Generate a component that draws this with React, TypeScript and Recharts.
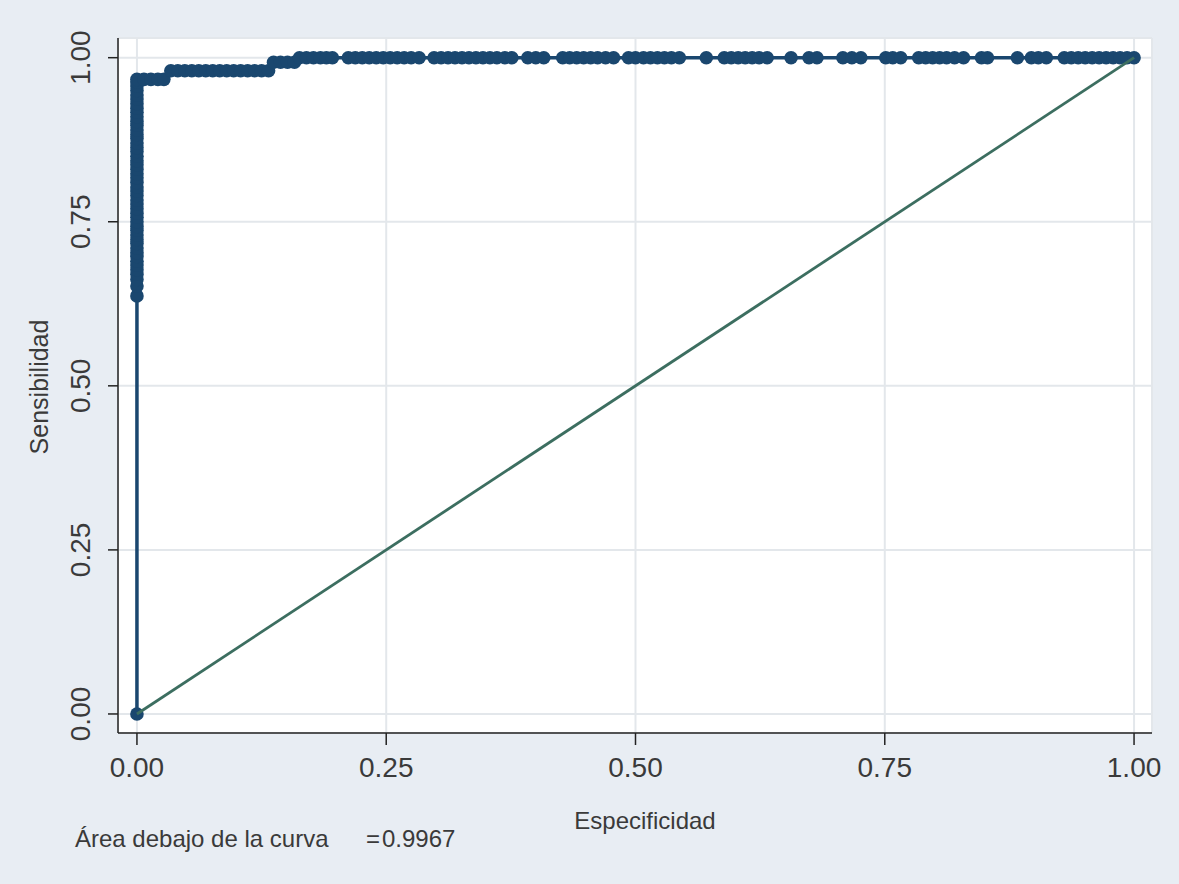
import { CartesianGrid, Label, Scatter, ScatterChart, XAxis, YAxis } from "recharts";

// axis ticks
const axisTicks = [0, 0.25, 0.5, 0.75, 1];
const tickLabels = ["0.00", "0.25", "0.50", "0.75", "1.00"];

// ROC curve
// vertical run at x = 0
const verticalSens = [
  0.637, 0.652, 0.662, 0.670, 0.677, 0.684, 0.690, 0.697, 0.703, 0.710,
  0.717, 0.723, 0.730, 0.737, 0.743, 0.750, 0.757, 0.763, 0.770, 0.777,
  0.783, 0.790, 0.797, 0.803, 0.810, 0.817, 0.823, 0.830, 0.837, 0.843,
  0.850, 0.857, 0.863, 0.870, 0.877, 0.883, 0.890, 0.897, 0.903, 0.910,
  0.917, 0.923, 0.930, 0.937, 0.943, 0.950, 0.957, 0.963, 0.967
];

// horizontal steps: sensitivity level and x positions on each
const stepLevels = [0.967, 0.98, 0.993, 1.0];
const step967 = [0.007, 0.014, 0.021, 0.027];
const step980 = [
  0.034, 0.041, 0.048, 0.055, 0.062, 0.069, 0.076, 0.083, 0.090, 0.097,
  0.104, 0.111, 0.118, 0.125, 0.132
];
const step993 = [0.137, 0.144, 0.151, 0.158];
const step100 = [
  0.163, 0.170, 0.177, 0.184, 0.190, 0.196,
  0.212, 0.219, 0.226, 0.233, 0.240, 0.247, 0.254, 0.261, 0.268, 0.275, 0.283,
  0.298, 0.305, 0.312, 0.319, 0.326, 0.333, 0.340, 0.347, 0.354, 0.361, 0.369, 0.376,
  0.392, 0.400, 0.408,
  0.427, 0.434, 0.441, 0.448, 0.455, 0.462, 0.470, 0.478,
  0.493, 0.500, 0.508, 0.515, 0.522, 0.529, 0.536, 0.544,
  0.571,
  0.589, 0.596, 0.603, 0.610, 0.617, 0.624, 0.632,
  0.656,
  0.674, 0.682,
  0.708, 0.717, 0.726,
  0.751, 0.758, 0.766,
  0.784, 0.791, 0.798, 0.805, 0.812, 0.820, 0.829,
  0.847, 0.853,
  0.883,
  0.897, 0.904, 0.912,
  0.930, 0.937, 0.944, 0.951, 0.958, 0.965, 0.972, 0.979, 0.986, 0.993, 1.0
];

const stepRuns = [step967, step980, step993, step100];

const rocData = [
  { x: 0, y: 0 },
  ...verticalSens.map((s) => ({ x: 0, y: s })),
  ...stepRuns.flatMap((run, i) => run.map((v) => ({ x: v, y: stepLevels[i] })))
];

const diagonal = [
  { x: 0, y: 0 },
  { x: 1, y: 1 }
];

const NAVY = "#1A476F";
const TEXT = "#3a3a3a";

const YTick = (props: any) => {
  const { x, y, payload } = props;
  const idx = axisTicks.indexOf(payload.value);
  return (
    <text
      transform={`translate(${x}, ${y}) rotate(-90)`}
      textAnchor="middle"
      fontSize={28}
      fill={TEXT}
    >
      {tickLabels[idx]}
    </text>
  );
};

export default function App() {
  return (
    <div
      style={{
        width: 1179,
        height: 884,
        background: "#E8EDF3",
        fontFamily: "'Liberation Sans', Arial, sans-serif"
      }}
    >
      <style>{"body{margin:0}"}</style>
      <ScatterChart
        width={1179}
        height={884}
        margin={{ top: 38, right: 27, left: 0, bottom: 0 }}
      >
        <CartesianGrid fill="#ffffff" stroke="#E3E7EB" strokeWidth={2} />
        <XAxis
          type="number"
          dataKey="x"
          domain={[-0.019, 1.018]}
          ticks={axisTicks}
          tickFormatter={(v: number) => tickLabels[axisTicks.indexOf(v)]}
          height={151}
          tickSize={12}
          tickMargin={12}
          axisLine={{ stroke: "#222", strokeWidth: 1.5 }}
          tickLine={{ stroke: "#222", strokeWidth: 1.5 }}
          tick={{ fontSize: 28, fill: TEXT }}
          allowDataOverflow
        >
          <Label
            content={() => (
              <text x={645} y={829} textAnchor="middle" fontSize={24} fill={TEXT}>
                Especificidad
              </text>
            )}
          />
          <Label
            content={() => (
              <g>
                <text x={75} y={847} fontSize={24} fill={TEXT}>
                  Área debajo de la curva
                </text>
                <text x={366} y={847} fontSize={24} fill={TEXT}>
                  =
                </text>
                <text x={382} y={847} fontSize={24} fill={TEXT}>
                  0.9967
                </text>
              </g>
            )}
          />
        </XAxis>
        <YAxis
          type="number"
          dataKey="y"
          domain={[-0.029, 1.03]}
          ticks={axisTicks}
          width={118}
          tickSize={10}
          tickMargin={18}
          axisLine={{ stroke: "#222", strokeWidth: 1.5 }}
          tickLine={{ stroke: "#222", strokeWidth: 1.5 }}
          tick={<YTick />}
          allowDataOverflow
        >
          <Label
            content={() => (
              <text
                transform="translate(48, 387) rotate(-90)"
                textAnchor="middle"
                fontSize={25}
                fill={TEXT}
              >
                Sensibilidad
              </text>
            )}
          />
        </YAxis>
        <Scatter
          data={rocData}
          fill={NAVY}
          line={{ stroke: NAVY, strokeWidth: 3.5 }}
          shape={(p: any) => <circle cx={p.cx} cy={p.cy} r={6.8} fill={NAVY} />}
          isAnimationActive={false}
        />
        <Scatter
          data={diagonal}
          line={{ stroke: "#3C6E60", strokeWidth: 2.8 }}
          shape={() => <g />}
          isAnimationActive={false}
        />
      </ScatterChart>
    </div>
  );
}
